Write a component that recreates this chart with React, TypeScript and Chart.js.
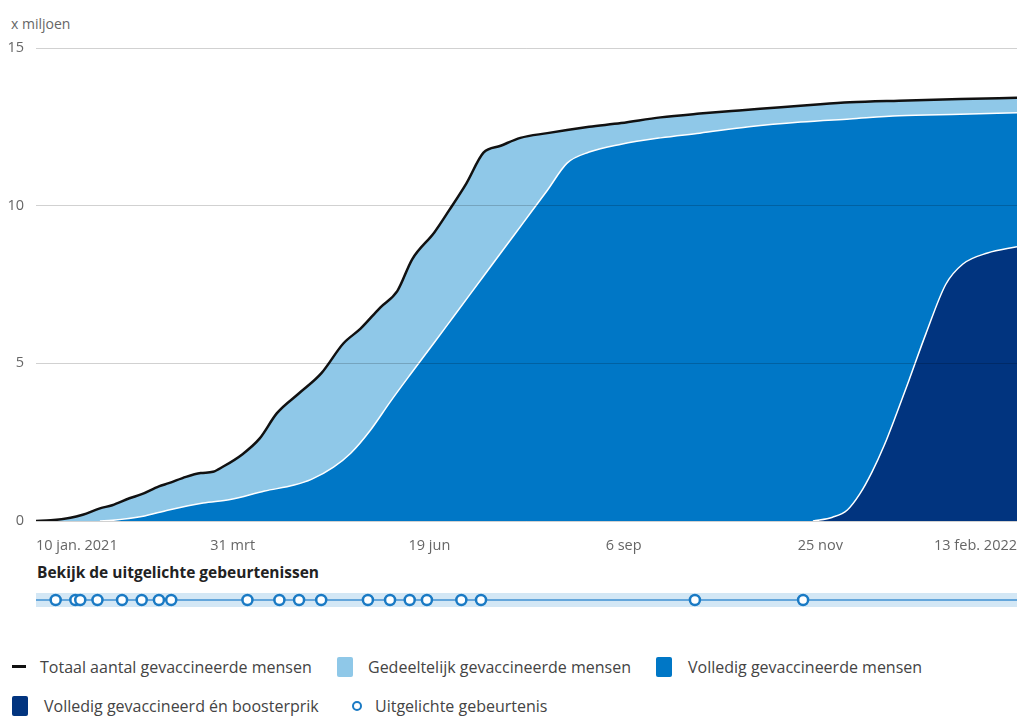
import React, { useEffect, useRef } from 'react';
import { Chart, registerables } from 'chart.js';

Chart.register(...registerables);

const FONT = "'Open Sans', 'Noto Sans', sans-serif";

// x axis: days since 10 jan. 2021
const xTickDays = [0, 80, 160, 239, 319, 399];
const xTickLabels = ['10 jan. 2021', '31 mrt', '19 jun', '6 sep', '25 nov', '13 feb. 2022'];
const yTickValues = [0, 5, 10, 15];

// Totaal aantal gevaccineerde mensen (x miljoen)
const totalDays = [0, 6, 14, 19, 26, 31, 38, 43, 50, 54, 61, 67, 72, 76, 84, 91, 98, 107, 116, 125, 132, 140, 147, 153, 162, 168, 175, 182, 189, 197, 208, 216, 225, 238, 254, 270, 286, 303, 319, 331, 351, 376, 399];
const totalValues = [0, 0.02, 0.1, 0.2, 0.4, 0.5, 0.72, 0.85, 1.1, 1.2, 1.4, 1.52, 1.56, 1.72, 2.12, 2.62, 3.42, 4.05, 4.68, 5.63, 6.1, 6.77, 7.3, 8.3, 9.15, 9.85, 10.7, 11.68, 11.9, 12.15, 12.3, 12.4, 12.5, 12.62, 12.8, 12.92, 13.02, 13.12, 13.22, 13.28, 13.33, 13.38, 13.42];

// Volledig gevaccineerde mensen
const fullyDays = [26, 31, 43, 54, 68, 79, 93, 105, 112, 121, 128, 136, 144, 152, 162, 170, 182, 190, 198, 208, 216, 225, 238, 254, 270, 290, 311, 331, 351, 376, 399];
const fullyValues = [0, 0.02, 0.14, 0.35, 0.57, 0.68, 0.95, 1.14, 1.32, 1.71, 2.15, 2.88, 3.77, 4.62, 5.66, 6.5, 7.76, 8.6, 9.44, 10.49, 11.35, 11.7, 11.95, 12.15, 12.3, 12.5, 12.65, 12.75, 12.85, 12.9, 12.95];

// Volledig gevaccineerd én boosterprik
const boosterDays = [316, 324, 330, 335, 340, 345, 350, 355, 362, 370, 377, 387, 399];
const boosterValues = [0, 0.12, 0.35, 0.85, 1.55, 2.4, 3.4, 4.45, 5.95, 7.5, 8.15, 8.5, 8.7];

// Uitgelichte gebeurtenissen
const eventDays = [8, 16, 18, 25, 35, 43, 50, 55, 86, 99, 107, 116, 135, 144, 152, 159, 173, 181, 268, 312];

const COLORS = {
  total: '#111111',
  partial: '#8fc8e8',
  fully: '#0077c6',
  booster: '#01347f',
  event: '#1a7ac4',
  band: '#d3e7f5',
  bandLine: '#3f90d2',
};

const pts = (xs: number[], ys: number[]) => xs.map((x, i) => ({ x, y: ys[i] }));

export default function App() {
  const mainRef = useRef<HTMLCanvasElement>(null);
  const evRef = useRef<HTMLCanvasElement>(null);

  useEffect(() => {
    const tickFont = { family: FONT, size: 14.5 };
    const main = new Chart(mainRef.current!, {
      type: 'line',
      data: {
        datasets: [
          {
            label: 'Totaal aantal gevaccineerde mensen',
            data: pts(totalDays, totalValues),
            borderColor: COLORS.total,
            borderWidth: 2.5,
            fill: false,
            order: 0,
          },
          {
            label: 'Gedeeltelijk gevaccineerde mensen',
            data: pts(totalDays, totalValues),
            borderWidth: 0,
            borderColor: 'rgba(0,0,0,0)',
            backgroundColor: COLORS.partial,
            fill: 'origin',
            order: 3,
          },
          {
            label: 'Volledig gevaccineerde mensen',
            data: pts(fullyDays, fullyValues),
            borderColor: '#ffffff',
            borderWidth: 1.5,
            backgroundColor: COLORS.fully,
            fill: 'origin',
            order: 2,
          },
          {
            label: 'Volledig gevaccineerd én boosterprik',
            data: pts(boosterDays, boosterValues),
            borderColor: '#ffffff',
            borderWidth: 1.5,
            backgroundColor: COLORS.booster,
            fill: 'origin',
            order: 1,
          },
        ],
      },
      options: {
        animation: false,
        responsive: true,
        maintainAspectRatio: false,
        events: [],
        layout: { autoPadding: false, padding: { top: 48, right: 2, left: 0, bottom: 0 } },
        elements: {
          point: { radius: 0 },
          line: { cubicInterpolationMode: 'monotone' },
        },
        plugins: {
          legend: { display: false },
          tooltip: { enabled: false },
          filler: { drawTime: 'beforeDatasetsDraw' },
        },
        scales: {
          x: {
            type: 'linear',
            min: 0,
            max: 399,
            grid: { display: false, drawTicks: true, tickLength: 16 },
            border: { display: false },
            afterBuildTicks: (s: any) => {
              s.ticks = xTickDays.map((v) => ({ value: v }));
            },
            afterFit: (s: any) => {
              s.height = 39;
            },
            ticks: {
              autoSkip: false,
              maxRotation: 0,
              align: 'inner',
              padding: 0,
              color: '#666',
              font: tickFont,
              callback: (_v: any, i: number) => xTickLabels[i],
            },
          },
          y: {
            min: 0,
            max: 15,
            border: { display: false },
            grid: { color: 'rgba(0,0,0,0.18)', lineWidth: 1, drawTicks: false, z: 1 },
            afterBuildTicks: (s: any) => {
              s.ticks = yTickValues.map((v) => ({ value: v }));
            },
            afterFit: (s: any) => {
              s.width = 36;
            },
            ticks: { padding: 12, color: '#666', font: tickFont },
          },
        },
      },
    } as any);

    const bandPlugin = {
      id: 'band',
      beforeDatasetsDraw(chart: any) {
        const { ctx, chartArea } = chart;
        const yc = chart.scales.y.getPixelForValue(0);
        ctx.save();
        ctx.fillStyle = COLORS.band;
        ctx.fillRect(chartArea.left, yc - 7, chartArea.right - chartArea.left, 14);
        ctx.strokeStyle = COLORS.bandLine;
        ctx.lineWidth = 1.5;
        ctx.beginPath();
        ctx.moveTo(chartArea.left, yc);
        ctx.lineTo(chartArea.right, yc);
        ctx.stroke();
        ctx.restore();
      },
    };

    const ev = new Chart(evRef.current!, {
      type: 'scatter',
      data: {
        datasets: [
          {
            label: 'Uitgelichte gebeurtenis',
            data: eventDays.map((d) => ({ x: d, y: 0 })),
            pointRadius: 5,
            pointBorderWidth: 2.5,
            pointBackgroundColor: '#ffffff',
            pointBorderColor: COLORS.event,
          },
        ],
      },
      options: {
        animation: false,
        responsive: true,
        maintainAspectRatio: false,
        events: [],
        layout: { autoPadding: false, padding: { top: 0, right: 2, left: 36, bottom: 0 } },
        plugins: { legend: { display: false }, tooltip: { enabled: false } },
        scales: {
          x: { type: 'linear', min: 0, max: 399, display: false },
          y: { min: -1, max: 1, display: false },
        },
      },
      plugins: [bandPlugin],
    } as any);

    return () => {
      main.destroy();
      ev.destroy();
    };
  }, []);

  const legendText: React.CSSProperties = {
    position: 'absolute',
    fontFamily: FONT,
    fontSize: 16,
    color: '#444',
    lineHeight: '20px',
    whiteSpace: 'nowrap',
  };
  const sq = (left: number, top: number, color: string): React.CSSProperties => ({
    position: 'absolute',
    left,
    top,
    width: 16,
    height: 20,
    borderRadius: 2,
    background: color,
  });

  return (
    <div style={{ position: 'absolute', left: 0, top: 0, width: 1019, height: 716, background: '#fff', overflow: 'hidden' }}>
      <div style={{ position: 'absolute', left: 11, top: 14, fontFamily: FONT, fontSize: 14, color: '#666', lineHeight: '20px' }}>x miljoen</div>
      <div style={{ position: 'absolute', left: 0, top: 0, width: 1019, height: 560 }}>
        <canvas ref={mainRef} />
      </div>
      <div style={{ position: 'absolute', left: 37, top: 562, fontFamily: FONT, fontSize: 15.5, fontWeight: 700, color: '#222', lineHeight: '20px' }}>
        Bekijk de uitgelichte gebeurtenissen
      </div>
      <div style={{ position: 'absolute', left: 0, top: 580, width: 1019, height: 40 }}>
        <canvas ref={evRef} />
      </div>

      {/* legend row 1 */}
      <div style={{ position: 'absolute', left: 12, top: 665, width: 14, height: 3, background: COLORS.total }} />
      <div style={{ ...legendText, left: 40, top: 657 }}>Totaal aantal gevaccineerde mensen</div>
      <div style={sq(337, 657, COLORS.partial)} />
      <div style={{ ...legendText, left: 368, top: 657 }}>Gedeeltelijk gevaccineerde mensen</div>
      <div style={sq(656, 657, COLORS.fully)} />
      <div style={{ ...legendText, left: 688, top: 657 }}>Volledig gevaccineerde mensen</div>

      {/* legend row 2 */}
      <div style={sq(12, 696, COLORS.booster)} />
      <div style={{ ...legendText, left: 44, top: 696 }}>Volledig gevaccineerd én boosterprik</div>
      <div
        style={{
          position: 'absolute',
          left: 352,
          top: 701,
          width: 6,
          height: 6,
          borderRadius: '50%',
          border: `2.5px solid ${COLORS.event}`,
          background: '#fff',
        }}
      />
      <div style={{ ...legendText, left: 375, top: 696 }}>Uitgelichte gebeurtenis</div>
    </div>
  );
}
